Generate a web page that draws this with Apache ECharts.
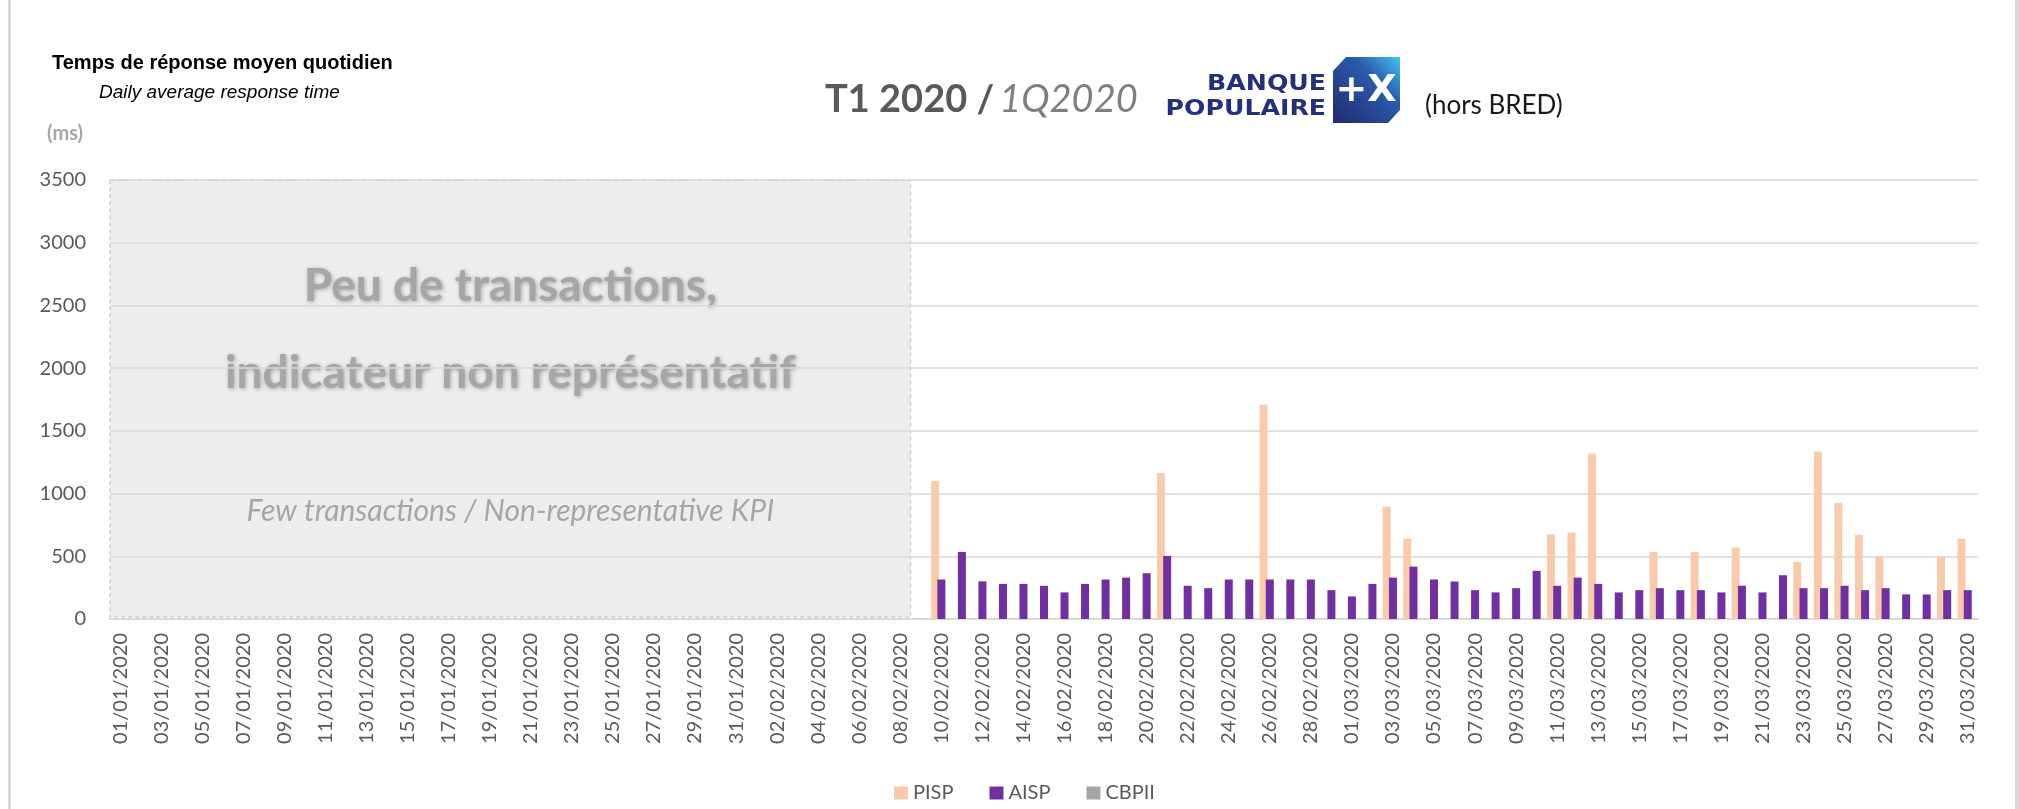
<!DOCTYPE html>
<html>
<head>
<meta charset="utf-8">
<title>Temps de réponse moyen quotidien</title>
<script src="https://cdn.jsdelivr.net/npm/echarts@6/dist/echarts.min.js"></script>
<style>
  html, body { margin: 0; padding: 0; background: #fff; }
  #chart { width: 2019px; height: 809px; }
</style>
</head>
<body>
<div id="chart"></div>
<script>
// days of Q1 2020
const days = [
  '01/01/2020', '02/01/2020', '03/01/2020', '04/01/2020', '05/01/2020', '06/01/2020', '07/01/2020', '08/01/2020', '09/01/2020', '10/01/2020',
  '11/01/2020', '12/01/2020', '13/01/2020', '14/01/2020', '15/01/2020', '16/01/2020', '17/01/2020', '18/01/2020', '19/01/2020', '20/01/2020',
  '21/01/2020', '22/01/2020', '23/01/2020', '24/01/2020', '25/01/2020', '26/01/2020', '27/01/2020', '28/01/2020', '29/01/2020', '30/01/2020',
  '31/01/2020', '01/02/2020', '02/02/2020', '03/02/2020', '04/02/2020', '05/02/2020', '06/02/2020', '07/02/2020', '08/02/2020', '09/02/2020',
  '10/02/2020', '11/02/2020', '12/02/2020', '13/02/2020', '14/02/2020', '15/02/2020', '16/02/2020', '17/02/2020', '18/02/2020', '19/02/2020',
  '20/02/2020', '21/02/2020', '22/02/2020', '23/02/2020', '24/02/2020', '25/02/2020', '26/02/2020', '27/02/2020', '28/02/2020', '29/02/2020',
  '01/03/2020', '02/03/2020', '03/03/2020', '04/03/2020', '05/03/2020', '06/03/2020', '07/03/2020', '08/03/2020', '09/03/2020', '10/03/2020',
  '11/03/2020', '12/03/2020', '13/03/2020', '14/03/2020', '15/03/2020', '16/03/2020', '17/03/2020', '18/03/2020', '19/03/2020', '20/03/2020',
  '21/03/2020', '22/03/2020', '23/03/2020', '24/03/2020', '25/03/2020', '26/03/2020', '27/03/2020', '28/03/2020', '29/03/2020', '30/03/2020',
  '31/03/2020'
]

// PISP (ms) - no data before 10/02
const pisp = [
  null, null, null, null, null, null, null, null, null, null,
  null, null, null, null, null, null, null, null, null, null,
  null, null, null, null, null, null, null, null, null, null,
  null, null, null, null, null, null, null, null, null, null,
  1100, null, null, null, null, null, null, null, null, null,
  null, 1165, null, null, null, null, 1710, null, null, null,
  null, null, 895, 640, null, null, null, null, null, null,
  675, 690, 1320, null, null, 535, null, 535, null, 570,
  null, null, 455, 1335, 925, 670, 500, null, null, 500,
  640
]

// AISP (ms)
const aisp = [
  null, null, null, null, null, null, null, null, null, null,
  null, null, null, null, null, null, null, null, null, null,
  null, null, null, null, null, null, null, null, null, null,
  null, null, null, null, null, null, null, null, null, null,
  315, 535, 300, 280, 280, 265, 212, 280, 315, 330,
  365, 503, 265, 246, 315, 315, 315, 315, 315, 230,
  180, 280, 330, 418, 315, 299, 230, 212, 246, 384,
  265, 330, 280, 212, 230, 246, 230, 230, 212, 265,
  212, 349, 246, 246, 265, 230, 246, 196, 196, 230,
  230
]

// CBPII: nothing reported
const cbpii = []

const yMin = 0
const yMax = 3500
const yStep = 500

const grey = '#595959'
const gridColor = '#d9d9d9'
const boxText = '#a6a6a6'

const chart = echarts.init(document.getElementById('chart'))

chart.setOption({
  backgroundColor: '#fff',
  animation: false,
  title: [
    {
      text: 'Temps de réponse moyen quotidien',
      left: 47,
      top: 48,
      textStyle: { fontFamily: 'Liberation Sans', fontWeight: 'bold', fontSize: 20, color: '#000' }
    },
    {
      text: 'Daily average response time',
      left: 94,
      top: 78,
      textStyle: { fontFamily: 'Liberation Sans', fontStyle: 'italic', fontWeight: 'normal', fontSize: 19, color: '#000' }
    },
    {
      text: '(ms)',
      left: 42,
      top: 119,
      textStyle: { fontFamily: 'Lato', fontWeight: 'bold', fontSize: 20, color: '#a6a6a6' }
    },
    {
      text: '{b|T1 2020 /} {i|1Q2020}',
      left: 820,
      top: 76,
      textStyle: {
        rich: {
          b: { fontFamily: 'Lato', fontWeight: 'bold', fontSize: 38, color: grey },
          i: { fontFamily: 'Lato', fontStyle: 'italic', fontWeight: 'normal', fontSize: 38, color: '#7f7f7f' }
        }
      }
    },
    {
      text: '(hors BRED)',
      left: 1420,
      top: 88,
      textStyle: { fontFamily: 'Lato', fontWeight: 'normal', fontSize: 26, color: '#1a1a1a' }
    }
  ],
  legend: {
    left: 889,
    top: 778,
    itemWidth: 14,
    itemHeight: 13,
    itemGap: 36,
    icon: 'rect',
    textStyle: { fontFamily: 'Lato', fontSize: 20, color: grey },
    data: ['PISP', 'AISP', 'CBPII']
  },
  grid: {
    left: 110,
    right: 41,
    top: 180,
    bottom: 190,
    outerBoundsMode: 'none'
  },
  xAxis: {
    type: 'category',
    data: days,
    axisLine: { lineStyle: { color: gridColor, width: 2 } },
    axisTick: { interval: 1, length: 7, lineStyle: { color: gridColor, width: 2 } },
    axisLabel: {
      interval: 1,
      rotate: 90,
      margin: 14,
      fontFamily: 'Lato',
      fontSize: 20,
      color: grey
    }
  },
  yAxis: {
    type: 'value',
    min: yMin,
    max: yMax,
    interval: yStep,
    axisLine: { show: false },
    axisTick: { show: false },
    axisLabel: {
      margin: 24,
      fontFamily: 'Lato',
      fontSize: 20,
      color: grey,
      formatter: v => String(v)
    },
    splitLine: { lineStyle: { color: gridColor, width: 1.5 } }
  },
  series: [
    {
      name: 'PISP',
      type: 'bar',
      data: pisp,
      barWidth: 8,
      barGap: '-22%',
      itemStyle: { color: '#F8CBAD' }
    },
    {
      name: 'AISP',
      type: 'bar',
      data: aisp,
      barWidth: 8,
      barGap: '-22%',
      itemStyle: { color: '#7030A0' }
    },
    {
      name: 'CBPII',
      type: 'bar',
      data: cbpii,
      barWidth: 8,
      barGap: '-22%',
      itemStyle: { color: '#A5A5A5' }
    }
  ],
  graphic: [
    // frame lines
    { type: 'rect', shape: { x: 8, y: 0, width: 3, height: 809 }, style: { fill: '#d9d9d9' }, silent: true },
    { type: 'rect', shape: { x: 2015, y: 0, width: 4, height: 809 }, style: { fill: '#d9d9d9' }, silent: true },
    // logo
    {
      type: 'text',
      x: 1326,
      y: 85,
      scaleX: 1.2,
      style: { text: 'BANQUE', align: 'right', verticalAlign: 'middle', font: 'bold 21px "DejaVu Sans"', fill: '#25307a' }
    },
    {
      type: 'text',
      x: 1326,
      y: 110,
      scaleX: 1.2,
      style: { text: 'POPULAIRE', align: 'right', verticalAlign: 'middle', font: 'bold 21px "DejaVu Sans"', fill: '#25307a' }
    },
    {
      type: 'polygon',
      shape: { points: [[1346, 57], [1400, 57], [1400, 110], [1388, 123], [1333, 123], [1333, 71]] },
      style: {
        fill: new echarts.graphic.LinearGradient(1, 0, 0, 1, [
          { offset: 0, color: '#45c3f0' },
          { offset: 0.35, color: '#2a5cae' },
          { offset: 1, color: '#222a6e' }
        ])
      }
    },
    {
      type: 'text',
      x: 1366,
      y: 91,
      style: { text: '+X', align: 'center', verticalAlign: 'middle', font: 'bold 38px "DejaVu Sans"', fill: '#fff' }
    }
  ]
})

// grey "not representative" box over Jan 1st -> Feb 8th
function drawBox() {
  const band = chart.convertToPixel({ xAxisIndex: 0 }, 1) - chart.convertToPixel({ xAxisIndex: 0 }, 0)
  const x0 = chart.convertToPixel({ xAxisIndex: 0 }, 0) - band / 2
  const x1 = chart.convertToPixel({ xAxisIndex: 0 }, 38) + band / 2
  const y0 = chart.convertToPixel({ yAxisIndex: 0 }, yMax)
  const y1 = chart.convertToPixel({ yAxisIndex: 0 }, yMin) - 2
  const cx = (x0 + x1) / 2
  const shadow = { textShadowColor: 'rgba(0,0,0,0.3)', textShadowBlur: 4, textShadowOffsetX: 1, textShadowOffsetY: 1 }
  chart.setOption({
    graphic: [
      {
        id: 'box',
        type: 'rect',
        z: -10,
        shape: { x: x0, y: y0, width: x1 - x0, height: y1 - y0 },
        style: { fill: '#ededed', stroke: '#d0d0d0', lineWidth: 1.5, lineDash: [4, 3] },
        silent: true
      },
      {
        id: 'boxT1',
        type: 'text',
        z: -5,
        x: cx,
        y: y0 + 106,
        style: Object.assign({ text: 'Peu de transactions,', align: 'center', verticalAlign: 'middle', font: 'bold 46px Lato', fill: boxText }, shadow)
      },
      {
        id: 'boxT2',
        type: 'text',
        z: -5,
        x: cx,
        y: y0 + 193,
        style: Object.assign({ text: 'indicateur non représentatif', align: 'center', verticalAlign: 'middle', font: 'bold 46px Lato', fill: boxText }, shadow)
      },
      {
        id: 'boxT3',
        type: 'text',
        z: -5,
        x: cx,
        y: y0 + 331,
        style: { text: 'Few transactions / Non-representative KPI', align: 'center', verticalAlign: 'middle', font: 'italic 30px Lato', fill: boxText }
      }
    ]
  })
}
drawBox()
</script>
</body>
</html>
